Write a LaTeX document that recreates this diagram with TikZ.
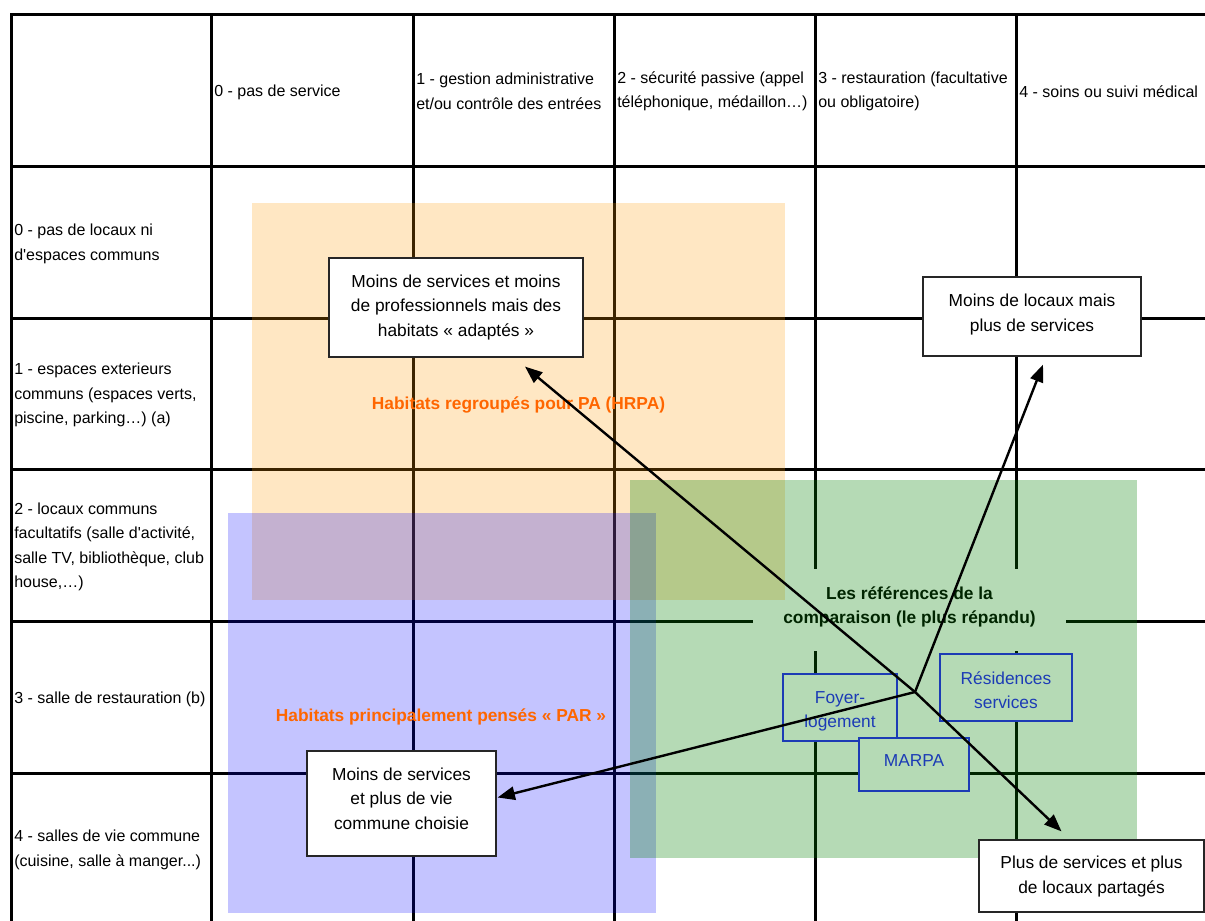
\documentclass[tikz,border=0pt]{standalone}
\usepackage{fontspec}
\setmainfont{Liberation Sans}
\usetikzlibrary{arrows.meta,fit}
\definecolor{hrpaorange}{RGB}{255,153,0}
\definecolor{parblue}{RGB}{0,0,255}
\definecolor{refgreen}{RGB}{0,128,0}
\definecolor{labelorange}{RGB}{255,102,0}
\definecolor{typeblue}{RGB}{40,32,255}
\begin{document}
\begin{tikzpicture}[x=0.75pt,y=-0.75pt,
  gridline/.style={line width=2.25pt, black, line cap=rect},
  tabtext/.style={font=\fontsize{12}{18.4}\selectfont, align=left, anchor=west, inner sep=0pt},
  whitebox/.style={draw=black!85, line width=0.9pt, fill=white, inner sep=0pt},
  boxtext/.style={inner sep=0pt, align=center, font=\fontsize{13}{18.4}\selectfont},
  typebox/.style={draw=typeblue, line width=0.9pt, fill=white, inner sep=0pt},
  typetext/.style={boxtext, text=typeblue},
  refpatch/.style={fill=white, inner sep=0pt},
  reftext/.style={inner sep=0pt, align=center, font=\bfseries\fontsize{13}{18.4}\selectfont},
  zonelabel/.style={text=labelorange, inner sep=0pt, font=\bfseries\fontsize{13}{18.4}\selectfont},
  arr/.style={line width=1.8pt, -{Triangle[length=13pt,width=10pt]}}]

\useasboundingbox (0,0) rectangle (1205,920);
\clip (0,0) rectangle (1205,920);
\fill[white] (0,0) rectangle (1205,920);

% table grid
\foreach \x in {11,211,413,614,815,1016} \draw[gridline] (\x,15) -- (\x,930);
\foreach \y in {15,166,318,469,621,773} \draw[gridline] (11,\y) -- (1215,\y);

% column headers
\node[tabtext] (h0) at (214,92) {0 - pas de service};
\node[tabtext] (h1) at (416,91.5) {1 - gestion administrative\\et/ou contrôle des entrées};
\node[tabtext] (h2) at (617,91.5) {2 - sécurité passive (appel\\téléphonique, médaillon…)};
\node[tabtext] (h3) at (818,91.5) {3 - restauration (facultative\\ou obligatoire)};
\node[tabtext] (h4) at (1019,92) {4 - soins ou suivi médical};

% row headers
\node[tabtext] (r0) at (14,244) {0 - pas de locaux ni\\d\textquotesingle espaces communs};
\node[tabtext] (r1) at (14,395) {1 - espaces exterieurs\\communs (espaces verts,\\piscine, parking…) (a)};
\node[tabtext] (r2) at (14,547) {2 - locaux communs\\facultatifs (salle d\textquotesingle activité,\\salle TV, bibliothèque, club\\house,…)};
\node[tabtext] (r3) at (14,699) {3 - salle de restauration (b)};
\node[tabtext] (r4) at (14,850) {4 - salles de vie commune\\(cuisine, salle à manger...)};

% items under the green zone
\node[refpatch, fit={(753,569)(1066,651)}] (refs) {};
\node[reftext] (refstext) at ([shift={(0,-3)}]refs.center) {Les références de la\\comparaison (le plus répandu)};
\node[typebox, fit={(783,674)(897,741)}] (foyer) {};
\node[typetext] (foyertext) at ([shift={(0,4)}]foyer.center) {Foyer-\\logement};
\node[typebox, fit={(940,654)(1072,721)}] (resid) {};
\node[typetext] (residtext) at ([shift={(0,2.5)}]resid.center) {Résidences\\services};
\node[typebox, fit={(859,738)(969,791)}] (marpa) {};
\node[typetext] (marpatext) at ([shift={(0,-4)}]marpa.center) {MARPA};

% translucent zones
\fill[hrpaorange, fill opacity=0.235] (252,203) rectangle (785,600);
\fill[parblue, fill opacity=0.23] (228,513) rectangle (656,913);
\fill[refgreen, fill opacity=0.29] (630,480) rectangle (1137,858);

% zone labels
\node[zonelabel] (hrpa) at (518.5,405) {Habitats regroupés pour PA (HRPA)};
\node[zonelabel] (par) at (441,717) {Habitats principalement pensés «~PAR~»};

% white boxes
\node[whitebox, fit={(329,258)(583,357)}] (hrpabox) {};
\node[boxtext] (hrpaboxtext) at (hrpabox.center) {Moins de services et moins\\de professionnels mais des\\habitats «~adaptés~»};
\node[whitebox, fit={(923,277)(1141,356)}] (locbox) {};
\node[boxtext] (locboxtext) at ([shift={(0,-2)}]locbox.center) {Moins de locaux mais\\plus de services};
\node[whitebox, fit={(307,751)(496,856)}] (viebox) {};
\node[boxtext] (vieboxtext) at ([shift={(0,-5)}]viebox.center) {Moins de services\\et plus de vie\\commune choisie};
\node[whitebox, fit={(979,840)(1204,912)}] (plusbox) {};
\node[boxtext] (plusboxtext) at ([shift={(0,0.5)}]plusbox.center) {Plus de services et plus\\de locaux partagés};

% arrows
\coordinate (J) at (915,692);
\draw[arr] (J) -- ([shift={(69,9)}]hrpabox.south);
\draw[arr] (J) -- ([shift={(11,8)}]locbox.south);
\draw[arr] (J) -- ([shift={(1,-6)}]viebox.east);
\draw[arr] (J) -- ([shift={(-30,-8)}]plusbox.north);
\end{tikzpicture}
\end{document}
